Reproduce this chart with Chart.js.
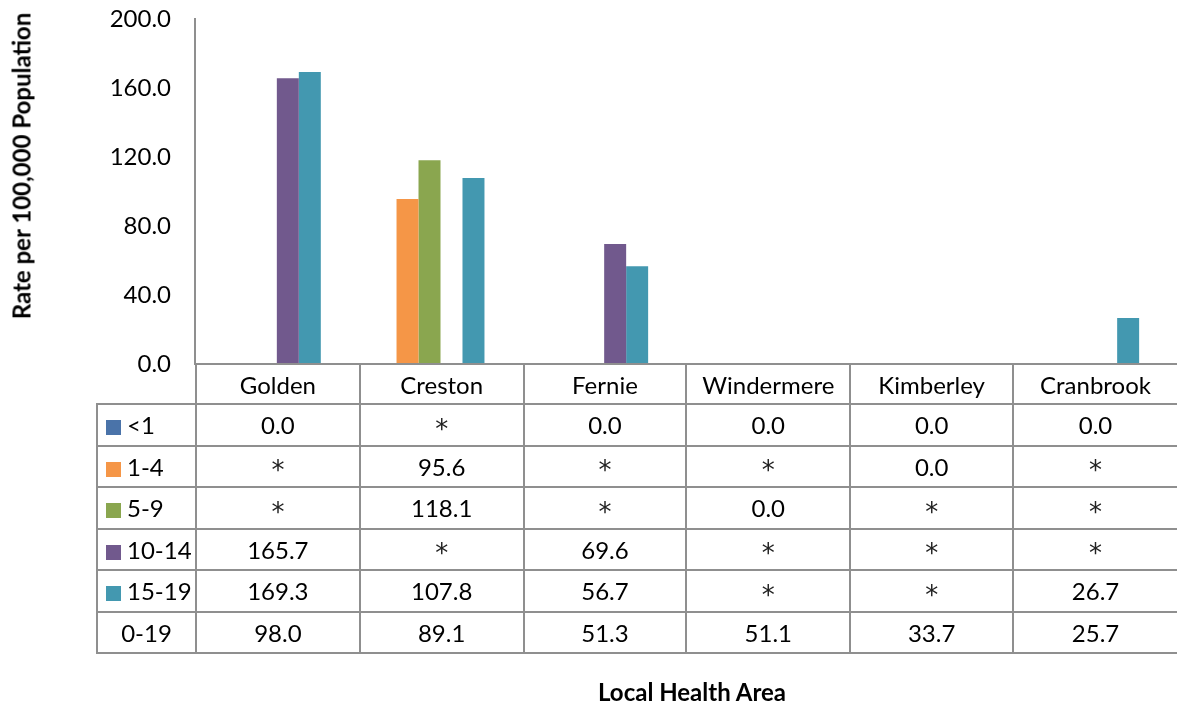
<!DOCTYPE html>
<html>
<head>
<meta charset="utf-8">
<script src="https://cdn.jsdelivr.net/npm/chart.js@4"></script>
<style>
  body { margin: 0; background: #fff; font-family: Lato, "Open Sans", sans-serif; }
  #wrap { position: relative; width: 1177px; height: 706px; overflow: hidden; }
  #chart { position: absolute; left: 0; top: 0; }
  #ytitle {
    position: absolute; left: 21px; top: 166px; white-space: nowrap;
    transform: translate(-50%, -50%) rotate(-90deg);
    font-weight: bold; font-size: 24px; color: #000;
  }
  #xtitle {
    position: absolute; left: 692px; top: 691px; white-space: nowrap;
    transform: translate(-50%, -50%);
    font-weight: bold; font-size: 24px; color: #000;
  }
  #dataTable {
    position: absolute; left: 96px; top: 363px;
    border-collapse: collapse; table-layout: fixed;
    font-size: 24px; color: #000;
  }
  #dataTable td {
    border: 2px solid #8f8f8f; height: 39.5px; padding: 0;
    text-align: center; white-space: nowrap;
  }
  #dataTable tr.head td { height: 38px; }
  #dataTable td.key { text-align: left; padding-left: 8px; }
  #dataTable td.corner { border-left: none; border-top: none; }
  #dataTable td.last { border-right: none; }
  .swatch { display: inline-block; width: 15px; height: 15px; margin-right: 6px; vertical-align: -1px; }
  .star { font-family: "DejaVu Sans", sans-serif; font-size: 26px; position: relative; top: 4px; color: #222; }
</style>
</head>
<body>
<div id="wrap">
  <canvas id="chart" width="1177" height="706"></canvas>
  <div id="ytitle">Rate per 100,000 Population</div>
  <table id="dataTable"></table>
  <div id="xtitle">Local Health Area</div>
</div>
<script>
const areas = ["Golden", "Creston", "Fernie", "Windermere", "Kimberley", "Cranbrook"];
const ageGroups = ["<1", "1-4", "5-9", "10-14", "15-19", "0-19"];
// null = suppressed value, shown as * in the table
const under1 = [0.0, null, 0.0, 0.0, 0.0, 0.0];
const age1to4 = [null, 95.6, null, null, 0.0, null];
const age5to9 = [null, 118.1, null, 0.0, null, null];
const age10to14 = [165.7, null, 69.6, null, null, null];
const age15to19 = [169.3, 107.8, 56.7, null, null, 26.7];
const age0to19 = [98.0, 89.1, 51.3, 51.1, 33.7, 25.7];
const yTicks = [0, 40, 80, 120, 160, 200];

const seriesValues = [under1, age1to4, age5to9, age10to14, age15to19, age0to19];
const colors = ["#4a73a9", "#f59647", "#8aa64f", "#71598d", "#4398b0", "rgba(0,0,0,0)"];

const datasets = ageGroups.map((g, i) => ({
  label: g,
  data: seriesValues[i],
  backgroundColor: colors[i],
  barPercentage: 1,
  categoryPercentage: 0.806
}));

new Chart(document.getElementById("chart").getContext("2d"), {
  type: "bar",
  data: { labels: areas, datasets },
  options: {
    responsive: false,
    animation: false,
    layout: { padding: { top: 19, right: 0, bottom: 342, left: 0 } },
    plugins: { legend: { display: false }, tooltip: { enabled: false } },
    scales: {
      x: {
        ticks: { display: false },
        grid: { display: false, drawTicks: false },
        border: { color: "#8f8f8f", width: 2 },
        afterFit: s => { s.height = 0; }
      },
      y: {
        min: 0, max: 200,
        afterBuildTicks: s => { s.ticks = yTicks.map(v => ({ value: v })); },
        ticks: {
          padding: 24, color: "#000",
          font: { family: "Lato", size: 24 },
          callback: v => v.toFixed(1)
        },
        grid: { display: false, drawTicks: false },
        border: { color: "#8f8f8f", width: 2 },
        afterFit: s => { s.width = 195; s.paddingTop = 0; s.paddingBottom = 0; }
      }
    }
  }
});

// data table under the plot
const table = document.getElementById("dataTable");
const colW = [99, 164, 164, 163, 164, 163, 164];
let html = "<colgroup>" + colW.map(w => `<col style="width:${w}px">`).join("") + "</colgroup>";
html += '<tr class="head"><td class="corner"></td>' +
  areas.map((a, j) => `<td class="${j === areas.length - 1 ? "last" : ""}">${a}</td>`).join("") + "</tr>";
ageGroups.forEach((g, i) => {
  const sw = i < 5 ? `<span class="swatch" style="background:${colors[i]}"></span>` : "";
  const cls = i < 5 ? "key" : "";
  html += `<tr><td class="${cls}">${sw}${g.replace("<", "&lt;")}</td>`;
  seriesValues[i].forEach((v, j) => {
    const txt = v === null ? '<span class="star">*</span>' : v.toFixed(1);
    html += `<td class="${j === areas.length - 1 ? "last" : ""}">${txt}</td>`;
  });
  html += "</tr>";
});
table.innerHTML = html;
</script>
</body>
</html>
